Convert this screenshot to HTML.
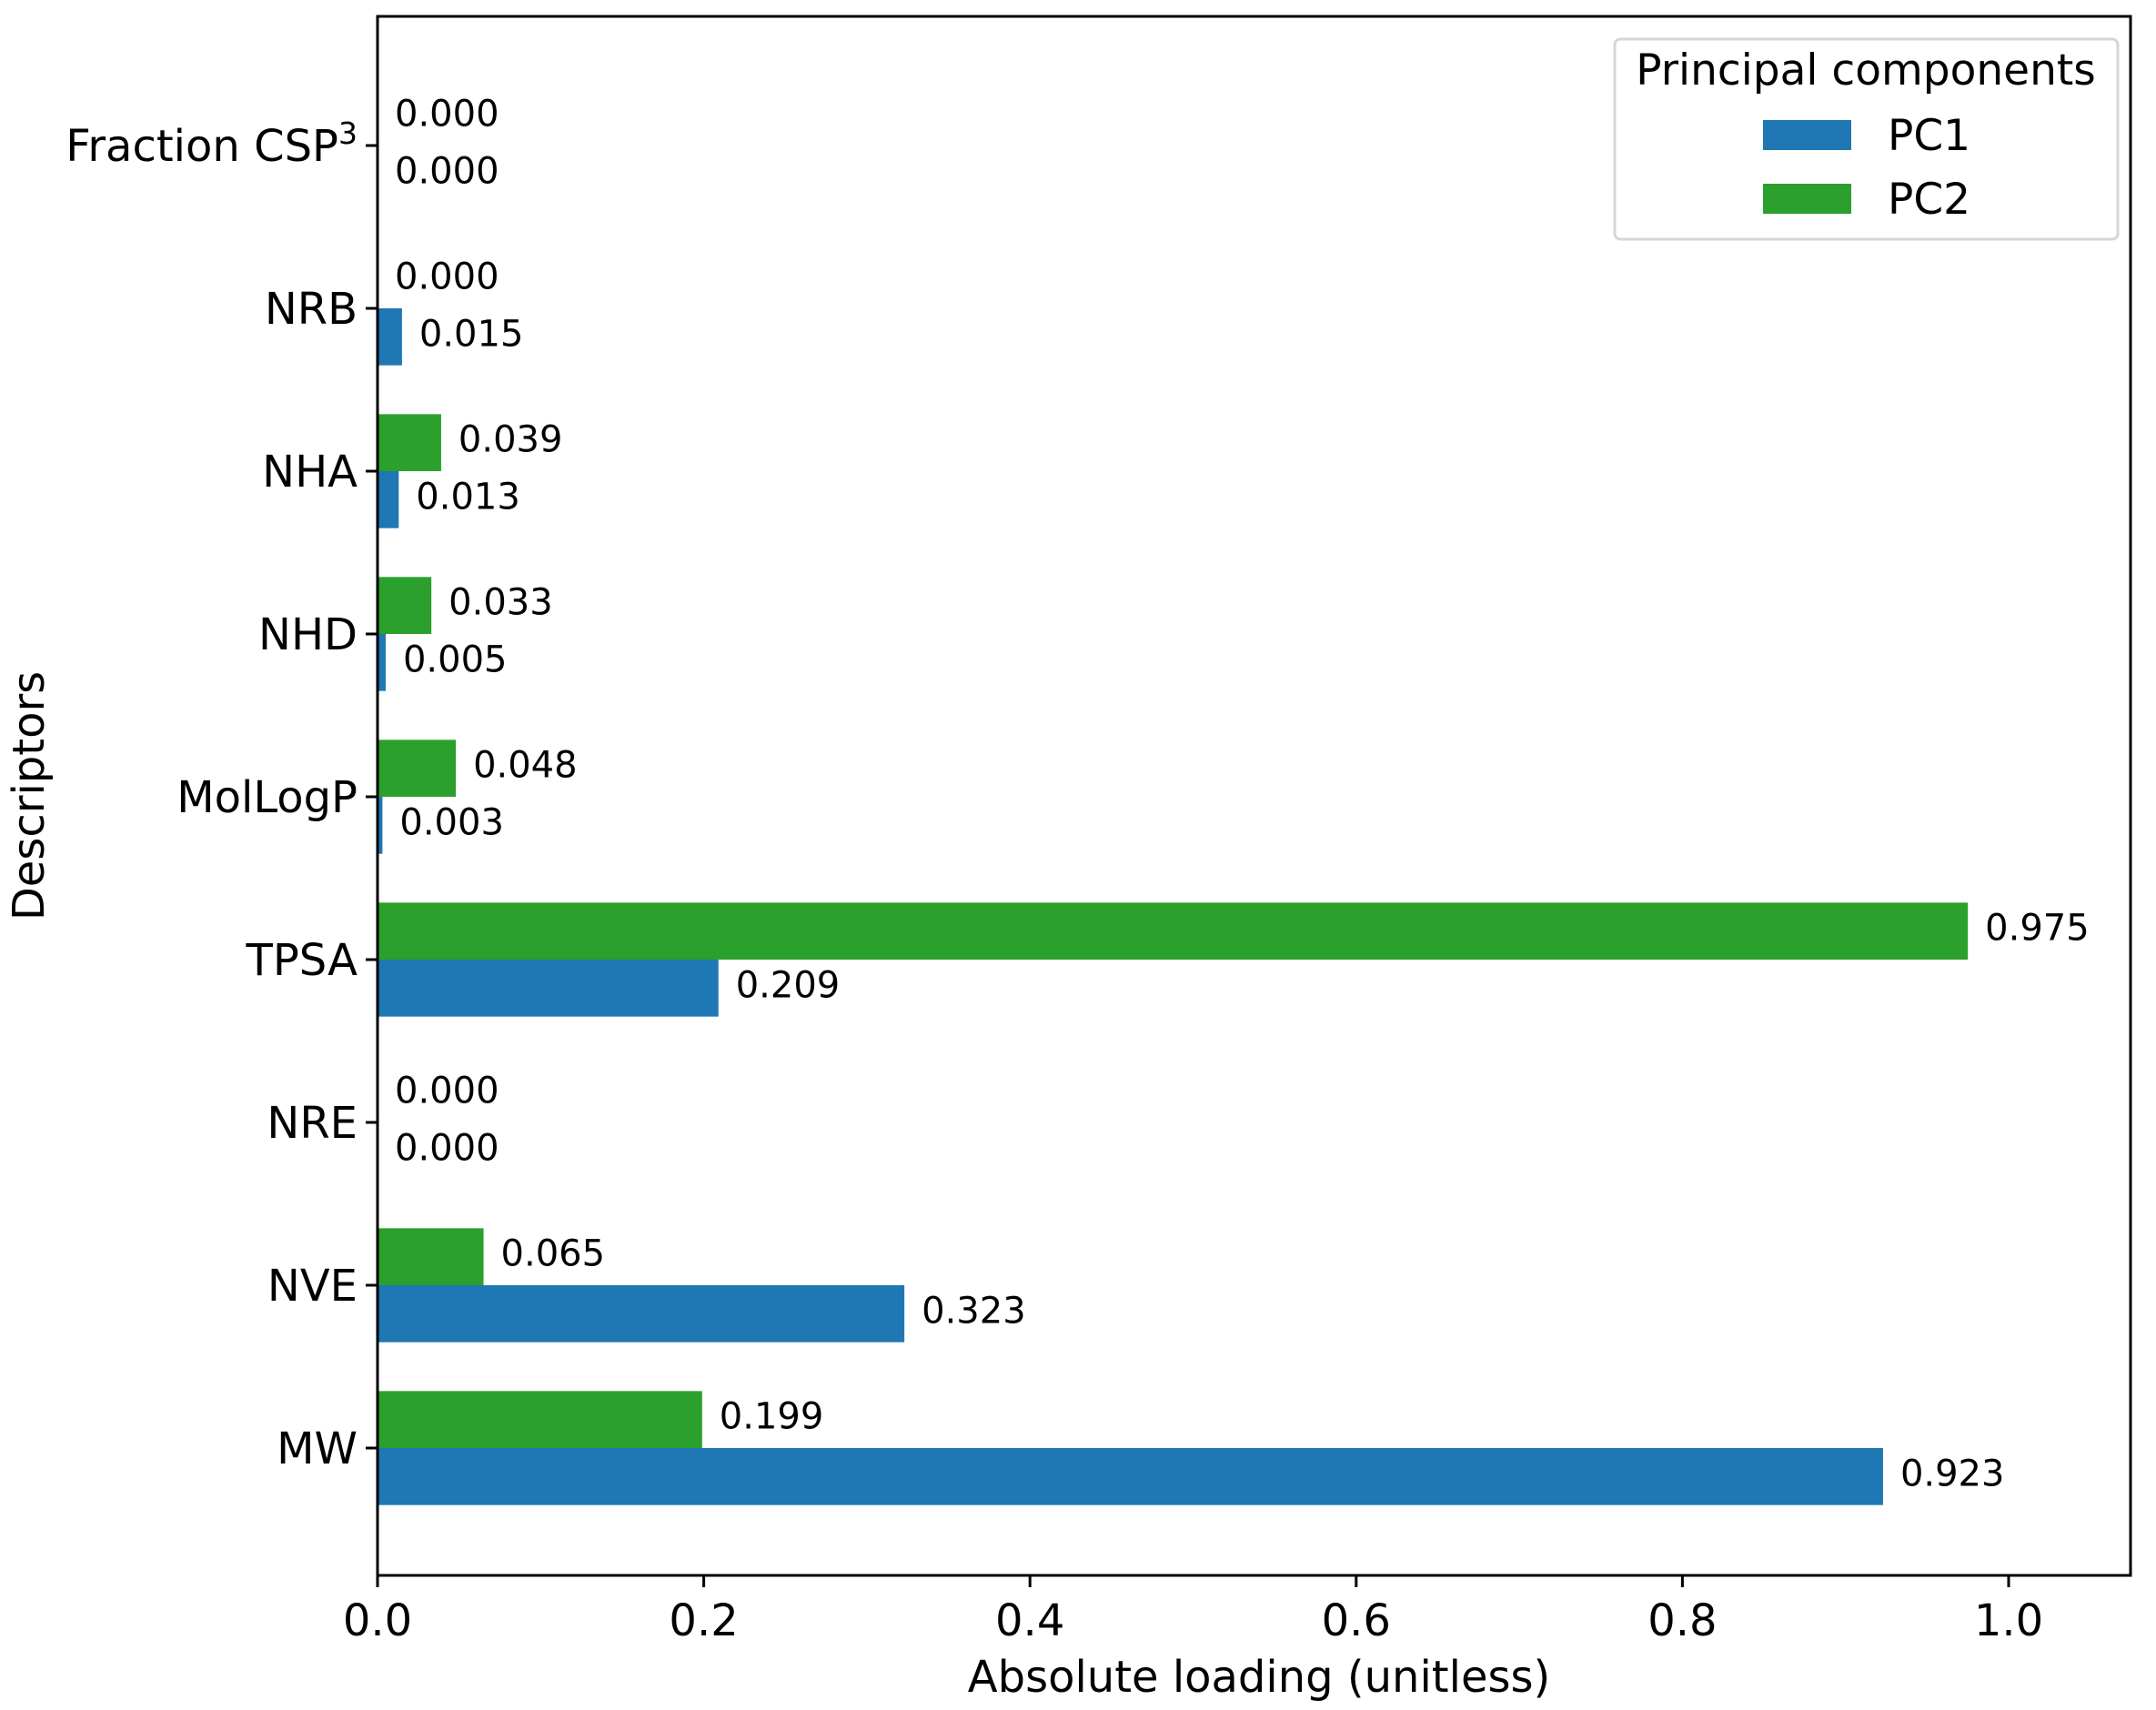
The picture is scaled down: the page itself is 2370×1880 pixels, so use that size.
<!DOCTYPE html>
<html><head><meta charset="utf-8"><style>
html,body{margin:0;padding:0;background:#fff}
svg text{font-family:"DejaVu Sans","Liberation Sans",sans-serif;fill:#000}
</style></head><body>
<svg id="chart" width="2370" height="1875" viewBox="0 0 2370 1875" xmlns="http://www.w3.org/2000/svg">
<g id="plot"></g>
<g id="axes"></g>
<g id="legend">
  <rect x="1775" y="43" width="553" height="220" rx="6" fill="#fff" stroke="#d6d6d6" stroke-width="3"/>
  <text x="2051" y="93" font-size="47" text-anchor="middle">Principal components</text>
  <rect x="1938" y="132" width="97" height="33" fill="#1f77b4"/>
  <text x="2075" y="165" font-size="47">PC1</text>
  <rect x="1938" y="202" width="97" height="33" fill="#2ca02c"/>
  <text x="2075" y="235" font-size="47">PC2</text>
</g>
<text x="1384" y="1860" font-size="48" text-anchor="middle">Absolute loading (unitless)</text>
<text x="0" y="0" font-size="48" text-anchor="middle" transform="translate(48,875) rotate(-90)">Descriptors</text>
</svg>
<script>
const categories = ["MW","NVE","NRE","TPSA","MolLogP","NHD","NHA","NRB","Fraction CSP"];
const pc1Values = [0.923,0.323,0.000,0.209,0.003,0.005,0.013,0.015,0.000];
const pc2Values = [0.199,0.065,0.000,0.975,0.048,0.033,0.039,0.000,0.000];
const xTicks = [0.0,0.2,0.4,0.6,0.8,1.0];
const xTickLabels = ["0.0","0.2","0.4","0.6","0.8","1.0"];

const NS = "http://www.w3.org/2000/svg";
const axLeft = 415, axRight = 2342, axTop = 18, axBottom = 1732;
const unit = 1793;
const xScale = v => axLeft + v * unit;
const y0 = 1592, step = 179;
const yScale = i => y0 - i * step;
const barH = 0.35 * step;

function mk(tag, attrs, parent) {
  const e = document.createElementNS(NS, tag);
  for (const k in attrs) e.setAttribute(k, attrs[k]);
  parent.appendChild(e);
  return e;
}
const plotG = document.getElementById("plot");
const axesG = document.getElementById("axes");

categories.forEach((c, i) => {
  const cy = yScale(i);
  const g = mk("rect", {x: axLeft, y: cy - barH, width: Math.max(0, xScale(pc2Values[i]) - axLeft), height: barH, fill: "#2ca02c"}, plotG);
  
  
  const b = mk("rect", {x: axLeft, y: cy, width: Math.max(0, xScale(pc1Values[i]) - axLeft), height: barH, fill: "#1f77b4"}, plotG);
  
  
  const t2 = mk("text", {x: xScale(pc2Values[i]) + 19, y: cy - barH / 2 + 10, "font-size": 40}, plotG);
  t2.textContent = pc2Values[i].toFixed(3);
  
  
  const t1 = mk("text", {x: xScale(pc1Values[i]) + 19, y: cy + barH / 2 + 10, "font-size": 40}, plotG);
  t1.textContent = pc1Values[i].toFixed(3);
  
  
  const tk = mk("line", {x1: axLeft - 13, x2: axLeft, y1: cy, y2: cy, stroke: "#000", "stroke-width": 3}, axesG);
  
  
  const lb = mk("text", {x: axLeft - 22, y: cy + 17, "font-size": 48, "text-anchor": "end"}, axesG);
  lb.textContent = c;
  if (c === "Fraction CSP") {
    const s = mk("tspan", {dy: -19, "font-size": 33}, lb);
    s.textContent = "3";
  }
  
  
});

xTicks.forEach((v, i) => {
  const tk = mk("line", {x1: xScale(v), x2: xScale(v), y1: axBottom, y2: axBottom + 13, stroke: "#000", "stroke-width": 3}, axesG);
  
  
  const lb = mk("text", {x: xScale(v), y: axBottom + 66, "font-size": 48, "text-anchor": "middle"}, axesG);
  lb.textContent = xTickLabels[i];
  
  
});

const frame = mk("rect", {x: axLeft, y: axTop, width: axRight - axLeft, height: axBottom - axTop, fill: "none", stroke: "#000", "stroke-width": 3}, axesG);


</script>
</body></html>
